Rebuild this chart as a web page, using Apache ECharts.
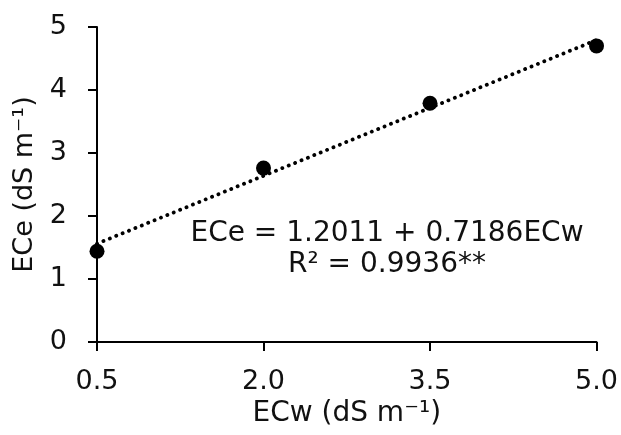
<!DOCTYPE html>
<html><head><meta charset="utf-8">
<script src="https://cdn.jsdelivr.net/npm/echarts@6/dist/echarts.min.js"></script>
<style>html,body{margin:0;padding:0;background:#fff}#c{width:621px;height:435px}</style>
</head><body><div id="c"></div>
<script>
const ecwValues = [0.5, 2.0, 3.5, 5.0];
const eceValues = [1.44, 2.76, 3.79, 4.70];
const xTicks = [0.5, 2.0, 3.5, 5.0];
const intercept = 1.2011;
const slope = 0.7186;
const eqLine1 = 'ECe = 1.2011 + 0.7186ECw';
const eqLine2 = 'R² = 0.9936**';

const FONT = 'DejaVu Sans';
const FS = 27;
const TXT = '#111';
const trend = [ecwValues[0], ecwValues[ecwValues.length-1]].map(x => [x, intercept + slope * x]);

const chart = echarts.init(document.getElementById('c'));
chart.setOption({
  animation: false,
  grid: {left: 97, right: 24, top: 27, bottom: 93},
  xAxis: {
    type: 'value', min: 0.5, max: 5,
    name: 'ECw (dS m⁻¹)', nameLocation: 'middle', nameGap: 58,
    nameTextStyle: {fontFamily: FONT, fontSize: 28, color: TXT},
    axisLine: {lineStyle: {color: '#000', width: 2}},
    axisTick: {show: true, length: 9, lineStyle: {color: '#000', width: 2}, customValues: xTicks},
    axisLabel: {fontFamily: FONT, fontSize: FS, color: TXT, margin: 26, customValues: xTicks, formatter: v => v.toFixed(1)},
    splitLine: {show: false}
  },
  yAxis: {
    type: 'value', min: 0, max: 5, interval: 1,
    name: 'ECe (dS m⁻¹)', nameLocation: 'middle', nameGap: 56,
    nameTextStyle: {fontFamily: FONT, fontSize: FS, color: TXT},
    axisLine: {show: true, lineStyle: {color: '#000', width: 2}},
    axisTick: {show: true, length: 9, lineStyle: {color: '#000', width: 2}},
    axisLabel: {fontFamily: FONT, fontSize: FS, color: TXT, margin: 30},
    splitLine: {show: false}
  },
  series: [
    {type: 'line', data: trend, symbol: 'none', lineStyle: {color: '#000', width: 3.8, type: [0.1, 6.8], cap: 'round'}, z: 2},
    {type: 'scatter', data: ecwValues.map((x, i) => [x, eceValues[i]]), symbolSize: 15, itemStyle: {color: '#000', opacity: 1}, z: 3}
  ],
  graphic: [
    {type: 'text', x: 387, y: 234, style: {text: eqLine1, fontFamily: FONT, fontSize: 28, fill: TXT, align: 'center', verticalAlign: 'middle'}},
    {type: 'text', x: 387, y: 265, style: {text: eqLine2, fontFamily: FONT, fontSize: 28, fill: TXT, align: 'center', verticalAlign: 'middle'}}
  ]
});
</script></body></html>
